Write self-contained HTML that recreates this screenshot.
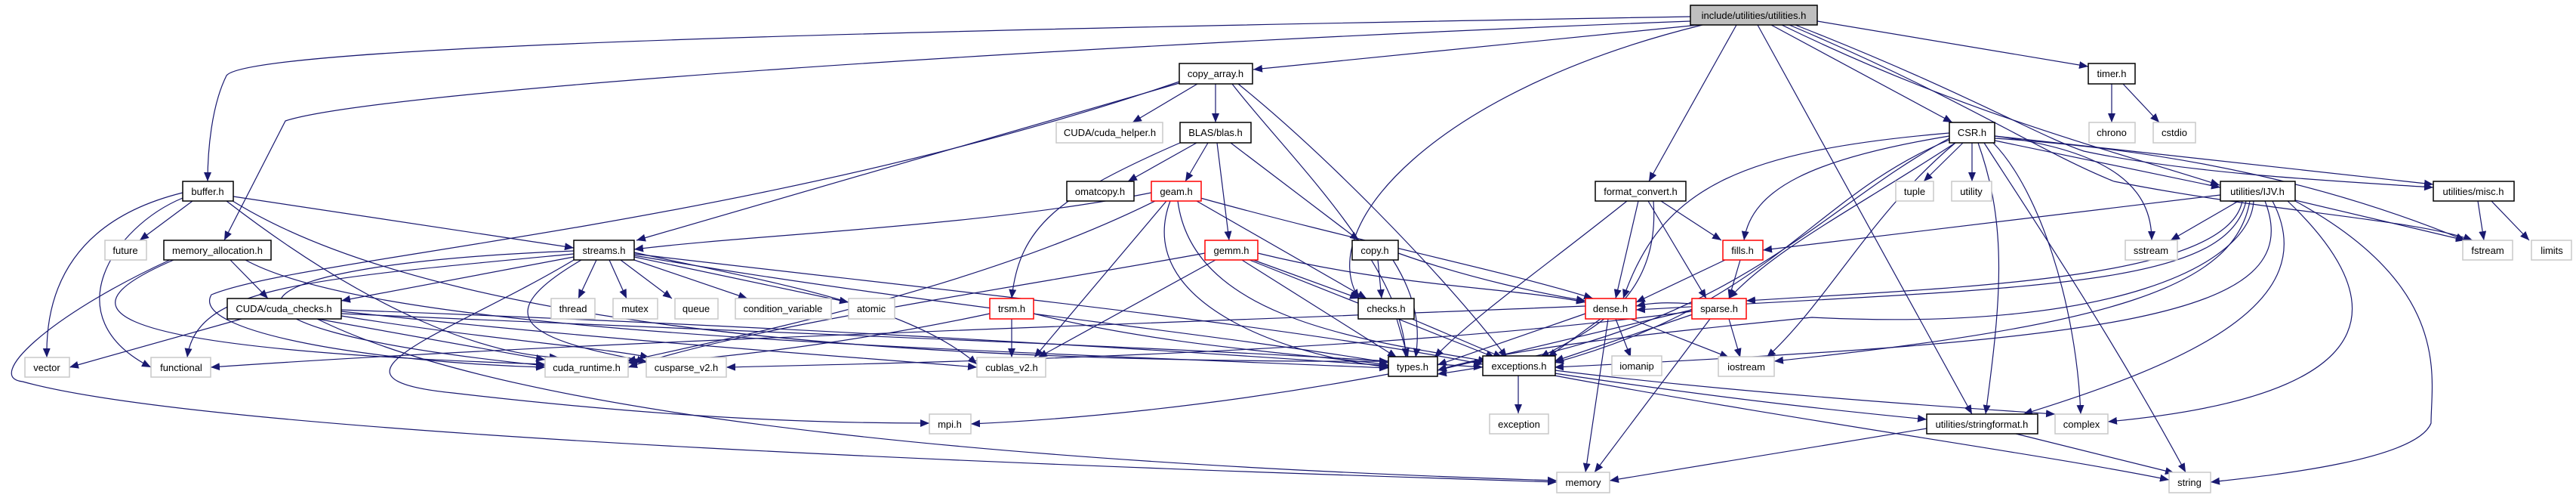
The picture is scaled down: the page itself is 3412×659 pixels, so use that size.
<!DOCTYPE html>
<html><head><meta charset="utf-8"><style>
html,body{margin:0;padding:0;background:#fff;}
svg{display:block;}
text{font-family:"Liberation Sans",sans-serif;font-size:13px;fill:#000;}
.e{fill:none;stroke:#191970;stroke-width:1.2;marker-end:url(#a);}
.b{fill:#fff;stroke:#000;stroke-width:1.5;}
.g{fill:#fff;stroke:#c8c8c8;stroke-width:1.5;}
.r{fill:#fff;stroke:#ff0000;stroke-width:1.5;}
</style></head><body>
<svg width="3412" height="659" viewBox="0 0 3412 659" xmlns="http://www.w3.org/2000/svg">
<defs><marker id="a" markerUnits="userSpaceOnUse" markerWidth="13" markerHeight="11" refX="12" refY="5" orient="auto"><path d="M0,0 L12,5 L0,10 z" fill="#191970"/></marker></defs>
<g>
<path class="e" d="M2239,22 C1200,40 330,60 300,100 C280,140 275,200 275,240"/>
<path class="e" d="M2239,28 C1400,60 500,120 378,160 L297,318"/>
<path class="e" d="M2250,33 L1660,92"/>
<path class="e" d="M2255,33 C1900,120 1740,300 1800,395"/>
<path class="e" d="M2300,33 L2184,240"/>
<path class="e" d="M2328,33 L2612,548"/>
<path class="e" d="M2346,33 L2586,162"/>
<path class="e" d="M2360,33 C2600,150 2800,200 2940,245"/>
<path class="e" d="M2378,33 C2600,120 2700,180 2760,200 C2900,230 3100,240 3223,248"/>
<path class="e" d="M2407,28 L2766,88"/>
<path class="e" d="M2370,33 C2600,130 2700,200 2800,240 C3000,280 3200,290 3275,318"/>
<path class="e" d="M1562,110 L843,318"/>
<path class="e" d="M1562,108 C1000,300 400,340 280,390 C250,440 500,480 722,486"/>
<path class="e" d="M1586,111 L1500,162"/>
<path class="e" d="M1610,111 L1610,162"/>
<path class="e" d="M1632,111 C1700,200 1860,350 1862,473"/>
<path class="e" d="M1640,111 C1750,200 1900,350 1996,473"/>
<path class="e" d="M1585,189 L1494,240"/>
<path class="e" d="M1600,189 L1570,240"/>
<path class="e" d="M1612,189 L1628,318"/>
<path class="e" d="M1563,189 C1400,260 1350,300 1340,395"/>
<path class="e" d="M1630,189 L1800,318"/>
<path class="e" d="M1525,255 C1300,300 1000,310 840,330"/>
<path class="e" d="M1530,266 C1300,380 1000,440 830,478"/>
<path class="e" d="M1545,266 L1370,473"/>
<path class="e" d="M1550,266 C1500,400 1700,470 1840,486"/>
<path class="e" d="M1560,266 C1580,420 1800,450 1970,478"/>
<path class="e" d="M1585,266 L1810,395"/>
<path class="e" d="M1590,262 C1800,320 2000,360 2110,395"/>
<path class="e" d="M1610,344 L1375,473"/>
<path class="e" d="M1645,344 L1850,473"/>
<path class="e" d="M1655,344 L1980,473"/>
<path class="e" d="M1660,344 L1800,395"/>
<path class="e" d="M1666,335 C1850,380 2000,380 2100,400"/>
<path class="e" d="M1596,335 C1350,380 1000,430 832,486"/>
<path class="e" d="M1340,422 L1340,473"/>
<path class="e" d="M1369,415 C1550,460 1750,470 1839,483"/>
<path class="e" d="M1311,415 C1100,460 900,480 832,480"/>
<path class="e" d="M1825,344 L1830,395"/>
<path class="e" d="M1845,344 C1880,400 1880,440 1875,473"/>
<path class="e" d="M1852,335 C1950,370 2050,390 2100,398"/>
<path class="e" d="M1850,422 L1865,473"/>
<path class="e" d="M1870,422 L1990,473"/>
<path class="e" d="M2170,266 L2140,395"/>
<path class="e" d="M2200,266 L2280,318"/>
<path class="e" d="M2183,266 L2260,395"/>
<path class="e" d="M2155,266 C2050,350 1950,420 1900,473"/>
<path class="e" d="M2190,266 C2200,400 2100,440 2040,473"/>
<path class="e" d="M2285,344 L2167,400"/>
<path class="e" d="M2305,344 L2290,395"/>
<path class="e" d="M2100,415 L1904,483"/>
<path class="e" d="M2120,422 L2050,473"/>
<path class="e" d="M2140,422 L2160,473"/>
<path class="e" d="M2160,422 L2290,473"/>
<path class="e" d="M2130,422 L2100,625"/>
<path class="e" d="M2100,405 C1500,430 800,450 279,486"/>
<path class="e" d="M2241,410 L1904,490"/>
<path class="e" d="M2245,415 L2059,478"/>
<path class="e" d="M2290,422 L2305,473"/>
<path class="e" d="M2265,422 L2112,625"/>
<path class="e" d="M2241,412 C1800,470 1200,480 962,486"/>
<path class="e" d="M2241,402 C2210,400 2190,400 2167,405"/>
<path class="e" d="M2600,189 L2548,240"/>
<path class="e" d="M2612,189 L2612,240"/>
<path class="e" d="M2582,176 C2300,200 2200,250 2150,395"/>
<path class="e" d="M2582,180 C2400,210 2320,250 2310,318"/>
<path class="e" d="M2590,189 C2450,280 2350,330 2290,395"/>
<path class="e" d="M2642,180 C2800,200 2850,250 2850,318"/>
<path class="e" d="M2590,189 C2480,280 2420,400 2340,473"/>
<path class="e" d="M2628,189 C2700,300 2800,450 2895,625"/>
<path class="e" d="M2640,189 C2700,250 2750,400 2756,548"/>
<path class="e" d="M2620,189 C2660,300 2650,400 2630,548"/>
<path class="e" d="M2582,185 C2400,260 2350,400 2059,480"/>
<path class="e" d="M2582,183 C2400,280 2300,440 1904,495"/>
<path class="e" d="M2642,186 L2941,248"/>
<path class="e" d="M2642,180 L3223,244"/>
<path class="e" d="M2642,183 C2900,200 3100,250 3265,318"/>
<path class="e" d="M2941,258 L2335,331"/>
<path class="e" d="M2965,266 L2875,318"/>
<path class="e" d="M2975,266 C2950,380 2700,380 2167,410"/>
<path class="e" d="M2970,266 C2950,370 2600,380 2313,398"/>
<path class="e" d="M3040,265 L3265,318"/>
<path class="e" d="M3040,266 C3250,380 3220,500 3220,560 C3200,610 3000,630 2928,638"/>
<path class="e" d="M3030,266 C3150,380 3200,520 2792,558"/>
<path class="e" d="M3010,266 C3080,400 2900,480 2680,548"/>
<path class="e" d="M3000,266 C3060,420 2800,450 2059,486"/>
<path class="e" d="M2985,266 C2980,350 2800,440 2400,420 C2200,440 2000,460 1904,490"/>
<path class="e" d="M2980,266 C2960,380 2800,430 2350,478"/>
<path class="e" d="M3282,266 L3290,318"/>
<path class="e" d="M3300,266 L3350,318"/>
<path class="e" d="M2797,111 L2797,162"/>
<path class="e" d="M2812,111 L2860,162"/>
<path class="e" d="M255,266 L185,318"/>
<path class="e" d="M242,255 C100,290 60,380 62,473"/>
<path class="e" d="M242,262 C150,300 70,420 200,486"/>
<path class="e" d="M309,260 L760,328"/>
<path class="e" d="M300,266 C500,420 650,470 740,473"/>
<path class="e" d="M305,264 C600,450 1300,480 1839,478"/>
<path class="e" d="M305,344 L355,395"/>
<path class="e" d="M230,344 C100,400 60,460 722,482"/>
<path class="e" d="M225,344 C60,420 -20,500 30,505 C300,580 1500,620 2062,638"/>
<path class="e" d="M325,344 C500,440 1200,460 1839,487"/>
<path class="e" d="M790,344 L766,395"/>
<path class="e" d="M807,344 L830,395"/>
<path class="e" d="M822,344 L890,395"/>
<path class="e" d="M840,344 L990,395"/>
<path class="e" d="M840,340 L1124,400"/>
<path class="e" d="M760,340 L452,398"/>
<path class="e" d="M760,332 C300,350 200,430 722,484"/>
<path class="e" d="M770,344 C640,420 700,450 856,478"/>
<path class="e" d="M840,334 C1000,370 1200,400 1294,482"/>
<path class="e" d="M760,336 C400,370 260,380 248,473"/>
<path class="e" d="M840,338 C1200,400 1600,440 1839,480"/>
<path class="e" d="M840,336 C1300,390 1700,430 1964,482"/>
<path class="e" d="M760,344 C600,440 400,500 600,520 C900,555 1100,560 1231,560"/>
<path class="e" d="M320,422 L92,486"/>
<path class="e" d="M420,422 L722,476"/>
<path class="e" d="M452,418 C650,450 800,460 860,473"/>
<path class="e" d="M452,412 C800,450 1100,470 1294,486"/>
<path class="e" d="M452,410 C1000,430 1500,460 1839,484"/>
<path class="e" d="M452,415 C1000,440 1600,460 1964,486"/>
<path class="e" d="M420,422 C700,560 1400,615 2062,636"/>
<path class="e" d="M1839,495 C1600,540 1400,556 1286,561"/>
<path class="e" d="M2011,497 L2011,547"/>
<path class="e" d="M2059,490 C2300,520 2600,540 2722,548"/>
<path class="e" d="M2059,494 C2300,530 2450,545 2552,555"/>
<path class="e" d="M2059,497 C2400,560 2700,600 2873,635"/>
<path class="e" d="M2552,567 L2132,636"/>
<path class="e" d="M2670,574 L2880,626"/>
</g>
<g>
<rect x="2239" y="7" width="168" height="26" fill="#bfbfbf" stroke="#000" stroke-width="1.5"/><text x="2323" y="25" text-anchor="middle">include/utilities/utilities.h</text>
<rect class="b" x="1562" y="84" width="97" height="27"/><text x="1610" y="102" text-anchor="middle">copy_array.h</text>
<rect class="b" x="2766" y="84" width="62" height="27"/><text x="2797" y="102" text-anchor="middle">timer.h</text>
<rect class="g" x="1399" y="162" width="141" height="27"/><text x="1470" y="180" text-anchor="middle">CUDA/cuda_helper.h</text>
<rect class="b" x="1563" y="162" width="94" height="27"/><text x="1610" y="180" text-anchor="middle">BLAS/blas.h</text>
<rect class="b" x="2582" y="162" width="60" height="27"/><text x="2612" y="180" text-anchor="middle">CSR.h</text>
<rect class="g" x="2767" y="162" width="61" height="27"/><text x="2797" y="180" text-anchor="middle">chrono</text>
<rect class="g" x="2852" y="162" width="56" height="27"/><text x="2880" y="180" text-anchor="middle">cstdio</text>
<rect class="b" x="242" y="240" width="67" height="26"/><text x="275" y="258" text-anchor="middle">buffer.h</text>
<rect class="b" x="1413" y="240" width="89" height="26"/><text x="1457" y="258" text-anchor="middle">omatcopy.h</text>
<rect class="r" x="1525" y="240" width="66" height="26"/><text x="1558" y="258" text-anchor="middle">geam.h</text>
<rect class="b" x="2113" y="240" width="120" height="26"/><text x="2173" y="258" text-anchor="middle">format_convert.h</text>
<rect class="g" x="2511" y="240" width="50" height="26"/><text x="2536" y="258" text-anchor="middle">tuple</text>
<rect class="g" x="2585" y="240" width="53" height="26"/><text x="2611" y="258" text-anchor="middle">utility</text>
<rect class="b" x="2941" y="240" width="99" height="26"/><text x="2990" y="258" text-anchor="middle">utilities/IJV.h</text>
<rect class="b" x="3223" y="240" width="107" height="26"/><text x="3276" y="258" text-anchor="middle">utilities/misc.h</text>
<rect class="g" x="139" y="318" width="55" height="26"/><text x="166" y="336" text-anchor="middle">future</text>
<rect class="b" x="217" y="318" width="142" height="26"/><text x="288" y="336" text-anchor="middle">memory_allocation.h</text>
<rect class="b" x="760" y="318" width="80" height="26"/><text x="800" y="336" text-anchor="middle">streams.h</text>
<rect class="r" x="1596" y="318" width="70" height="26"/><text x="1631" y="336" text-anchor="middle">gemm.h</text>
<rect class="b" x="1791" y="318" width="61" height="26"/><text x="1821" y="336" text-anchor="middle">copy.h</text>
<rect class="r" x="2282" y="318" width="53" height="26"/><text x="2308" y="336" text-anchor="middle">fills.h</text>
<rect class="g" x="2815" y="318" width="69" height="26"/><text x="2849" y="336" text-anchor="middle">sstream</text>
<rect class="g" x="3262" y="318" width="66" height="26"/><text x="3295" y="336" text-anchor="middle">fstream</text>
<rect class="g" x="3353" y="318" width="53" height="26"/><text x="3380" y="336" text-anchor="middle">limits</text>
<rect class="b" x="301" y="395" width="151" height="27"/><text x="376" y="413" text-anchor="middle">CUDA/cuda_checks.h</text>
<rect class="g" x="730" y="395" width="58" height="27"/><text x="759" y="413" text-anchor="middle">thread</text>
<rect class="g" x="812" y="395" width="59" height="27"/><text x="841" y="413" text-anchor="middle">mutex</text>
<rect class="g" x="894" y="395" width="57" height="27"/><text x="922" y="413" text-anchor="middle">queue</text>
<rect class="g" x="974" y="395" width="127" height="27"/><text x="1037" y="413" text-anchor="middle">condition_variable</text>
<rect class="g" x="1124" y="395" width="61" height="27"/><text x="1154" y="413" text-anchor="middle">atomic</text>
<rect class="r" x="1311" y="395" width="58" height="27"/><text x="1340" y="413" text-anchor="middle">trsm.h</text>
<rect class="b" x="1799" y="395" width="74" height="27"/><text x="1836" y="413" text-anchor="middle">checks.h</text>
<rect class="r" x="2100" y="395" width="67" height="27"/><text x="2133" y="413" text-anchor="middle">dense.h</text>
<rect class="r" x="2241" y="395" width="72" height="27"/><text x="2277" y="413" text-anchor="middle">sparse.h</text>
<rect class="g" x="33" y="473" width="59" height="26"/><text x="62" y="491" text-anchor="middle">vector</text>
<rect class="g" x="200" y="473" width="79" height="26"/><text x="240" y="491" text-anchor="middle">functional</text>
<rect class="g" x="722" y="473" width="110" height="26"/><text x="777" y="491" text-anchor="middle">cuda_runtime.h</text>
<rect class="g" x="856" y="473" width="106" height="26"/><text x="909" y="491" text-anchor="middle">cusparse_v2.h</text>
<rect class="g" x="1294" y="473" width="91" height="26"/><text x="1340" y="491" text-anchor="middle">cublas_v2.h</text>
<rect class="b" x="1839" y="472" width="65" height="26"/><text x="1871" y="490" text-anchor="middle">types.h</text>
<rect class="b" x="1964" y="471" width="96" height="26"/><text x="2012" y="489" text-anchor="middle">exceptions.h</text>
<rect class="g" x="2135" y="471" width="66" height="26"/><text x="2168" y="489" text-anchor="middle">iomanip</text>
<rect class="g" x="2276" y="472" width="74" height="26"/><text x="2313" y="490" text-anchor="middle">iostream</text>
<rect class="g" x="1231" y="548" width="55" height="26"/><text x="1258" y="566" text-anchor="middle">mpi.h</text>
<rect class="g" x="1973" y="548" width="78" height="26"/><text x="2012" y="566" text-anchor="middle">exception</text>
<rect class="b" x="2552" y="548" width="147" height="26"/><text x="2625" y="566" text-anchor="middle">utilities/stringformat.h</text>
<rect class="g" x="2722" y="548" width="70" height="26"/><text x="2757" y="566" text-anchor="middle">complex</text>
<rect class="g" x="2062" y="625" width="70" height="27"/><text x="2097" y="643" text-anchor="middle">memory</text>
<rect class="g" x="2873" y="625" width="55" height="27"/><text x="2900" y="643" text-anchor="middle">string</text>
</g>
</svg>
</body></html>
